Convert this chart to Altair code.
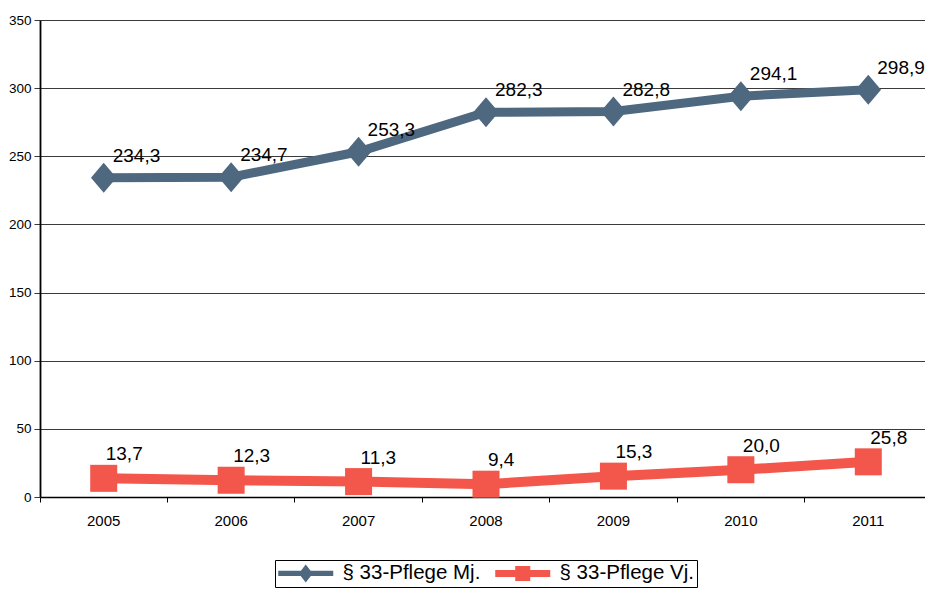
import altair as alt
import pandas as pd

# Values per year
years = ["2005", "2006", "2007", "2008", "2009", "2010", "2011"]
series_names = ["§ 33-Pflege Mj.", "§ 33-Pflege Vj."]
pflege_mj = [234.3, 234.7, 253.3, 282.3, 282.8, 294.1, 298.9]
pflege_vj = [13.7, 12.3, 11.3, 9.4, 15.3, 20.0, 25.8]
series_colors = ["#4e6880", "#f3574b"]
y_ticks = [0, 50, 100, 150, 200, 250, 300, 350]

rows = []
for name, vals in zip(series_names, [pflege_mj, pflege_vj]):
    for yr, v in zip(years, vals):
        rows.append({"year": yr, "series": name, "value": v,
                     "label": f"{v:.1f}".replace(".", ",")})
df = pd.DataFrame(rows)

FONT = "Liberation Sans"

color_scale = alt.Scale(domain=series_names, range=series_colors)

x_enc = alt.X(
    "year:N", sort=years,
    scale=alt.Scale(type="band", paddingInner=0, paddingOuter=0, range=[0, 892]),
    axis=alt.Axis(title=None, labelAngle=0, bandPosition=0, grid=False,
                  domainColor="black", domainWidth=1.5, tickColor="black",
                  tickSize=5, labelPadding=11, labelFont=FONT,
                  labelFontSize=15, labelColor="black"),
)
y_enc = alt.Y(
    "value:Q",
    scale=alt.Scale(domain=[0, 350], nice=False, zero=True),
    axis=alt.Axis(title=None, values=y_ticks, grid=True, gridColor="#3a3a3a",
                  gridWidth=1, domainColor="black", domainWidth=1.8,
                  tickColor="#3a3a3a", tickSize=6, labelPadding=3,
                  labelFont=FONT, labelFontSize=13.5, labelColor="black"),
)

base = alt.Chart(df).encode(x=x_enc, y=y_enc)
mj = base.transform_filter(alt.datum.series == series_names[0])
vj = base.transform_filter(alt.datum.series == series_names[1])
color_enc = alt.Color("series:N", scale=color_scale, legend=None)

line_mj = mj.mark_line(strokeWidth=9).encode(color=color_enc)
line_vj = vj.mark_line(strokeWidth=10).encode(color=color_enc)

# Slightly tall diamond marker
diamond_path = "M-0.85,0L0,-1L0.85,0L0,1Z"

diamonds = mj.mark_point(shape=diamond_path, filled=True, size=900, opacity=1).encode(
    color=color_enc
)
squares = vj.mark_point(shape="square", filled=True, size=730, opacity=1).encode(
    color=color_enc
)

labels_mj = mj.mark_text(align="left", baseline="middle", dx=9, dy=-22,
                         font=FONT, fontSize=19, color="black").encode(text="label:N")
labels_vj = vj.mark_text(align="left", baseline="middle", dx=2, dy=-24,
                         font=FONT, fontSize=19, color="black").encode(text="label:N")

# Legend symbols: a line segment with the series marker in the middle
path_mj = "M-1,-0.27L4.5,-0.27L4.5,0.27L-1,0.27Z M1.05,0L1.75,-0.9L2.45,0L1.75,0.9Z"
path_vj = "M-1,-0.35L4.5,-0.35L4.5,0.35L-1,0.35Z M1.0,-0.75L2.5,-0.75L2.5,0.75L1.0,0.75Z"

legend_def = alt.Legend(
    title=None, orient="none", legendX=235, legendY=540, direction="horizontal",
    strokeColor="black", fillColor="white", padding=3, cornerRadius=0,
    labelFont=FONT, labelFontSize=20.5, labelColor="black", labelLimit=400,
    symbolSize=400, symbolStrokeWidth=0, symbolStrokeColor="transparent",
    symbolOpacity=1, labelOffset=44, columnPadding=14,
)

# Mark-less layer that carries the legend
legend_layer = base.transform_filter("false").mark_point(
    filled=True, opacity=1
).encode(
    color=alt.Color("series:N", scale=color_scale, legend=legend_def),
    shape=alt.Shape("series:N",
                    scale=alt.Scale(domain=series_names, range=[path_mj, path_vj]),
                    legend=legend_def),
)

chart = alt.layer(
    legend_layer, line_mj, line_vj, diamonds, squares, labels_mj, labels_vj
).properties(
    width=883, height=477,
    autosize=alt.AutoSizeParams(type="none"),
    padding={"left": 40, "top": 20, "right": 2, "bottom": 93},
    background="white",
).configure_view(stroke=None)

chart.save("out.html", embed_options={"renderer": "svg", "actions": False})
